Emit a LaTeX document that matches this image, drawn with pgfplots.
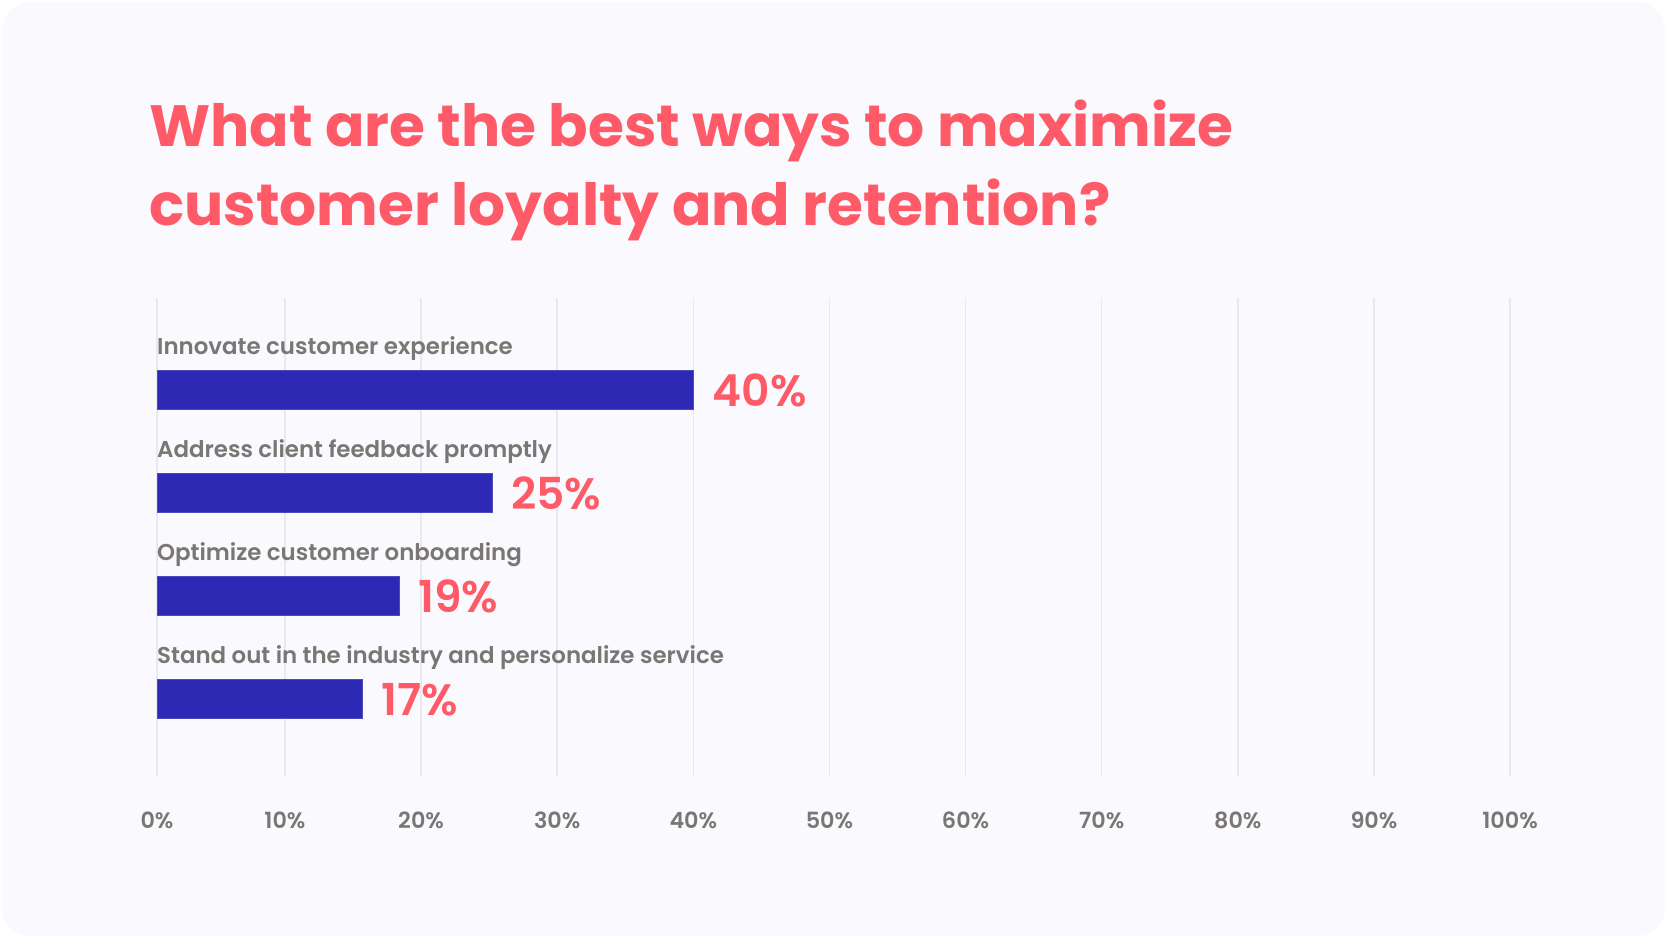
\documentclass[border=0pt]{standalone}
\usepackage{fontspec}
\usepackage{pgfplots}
\usepackage{pgfplotstable}
\pgfplotsset{compat=1.18}
\setmainfont{Poppins}[UprightFont=* Medium, BoldFont=* Bold]
\newfontfamily\popsemi{Poppins SemiBold}
\newfontfamily\popbold{Poppins Bold}
\definecolor{coral}{HTML}{FF5A67}
\definecolor{barc}{HTML}{2E29B4}
\definecolor{txtgray}{HTML}{7A7673}
\definecolor{cardbg}{HTML}{F9F9FE}
\definecolor{gridc}{HTML}{E8EAF0}
\pgfplotstableread[col sep=comma]{
pos,len,val,name
3,40.0,40,Innovate customer experience
2,25.2,25,Address client feedback promptly
1,18.4,19,Optimize customer onboarding
0,15.7,17,Stand out in the industry and personalize service
}\data
\begin{document}
\begin{tikzpicture}[x=1pt,y=1pt]
\fill[white] (0,0) rectangle (1667,938);
\fill[cardbg, rounded corners=28pt] (2,2) rectangle (1665,936);
\node[anchor=base west, inner sep=0pt, text=coral, font=\popbold\fontsize{58.2}{79}\selectfont, align=left] at (149,712) {What are the best ways to maximize\\customer loyalty and retention?};
\begin{axis}[
  at={(157pt,162pt)}, anchor=south west,
  scale only axis, width=1353pt, height=478pt,
  xmin=0.6, xmax=100, ymin=-0.7476, ymax=3.888,
  xtick={0.6,10,20,30,40,50,60,70,80,90,100}, ytick=\empty,
  xticklabels={0\%,10\%,20\%,30\%,40\%,50\%,60\%,70\%,80\%,90\%,100\%},
  xticklabel style={font=\popsemi\fontsize{22.3}{26}\selectfont, text=txtgray, anchor=base, yshift=-52pt},
  /pgf/number format/assume math mode=true,
  xmajorgrids, grid style={color=gridc, line width=1.6pt},
  axis line style={draw=none}, major tick length=0pt,
]
\addplot[xbar, bar width=39pt, fill=barc, draw=barc!85!white, line width=0.6pt] table[x=len, y=pos] {\data};
\addplot[only marks, mark=none, point meta=explicit,
  nodes near coords={\pgfmathprintnumber[assume math mode=true]{\pgfplotspointmeta}\%},
  nodes near coords style={anchor=base west, inner sep=0pt, xshift=19pt, yshift=-16.5pt, text=coral, font=\popsemi\fontsize{44}{48}\selectfont}]
  table[x=len, y=pos, meta=val] {\data};
\addplot[only marks, mark=none, point meta=explicit symbolic,
  nodes near coords={\pgfplotspointmeta},
  nodes near coords style={anchor=base west, inner sep=0pt, yshift=35.5pt, text=txtgray, font=\popsemi\fontsize{22.9}{26}\selectfont}]
  table[x expr=0.6, y=pos, meta=name] {\data};
\end{axis}
\end{tikzpicture}
\end{document}
